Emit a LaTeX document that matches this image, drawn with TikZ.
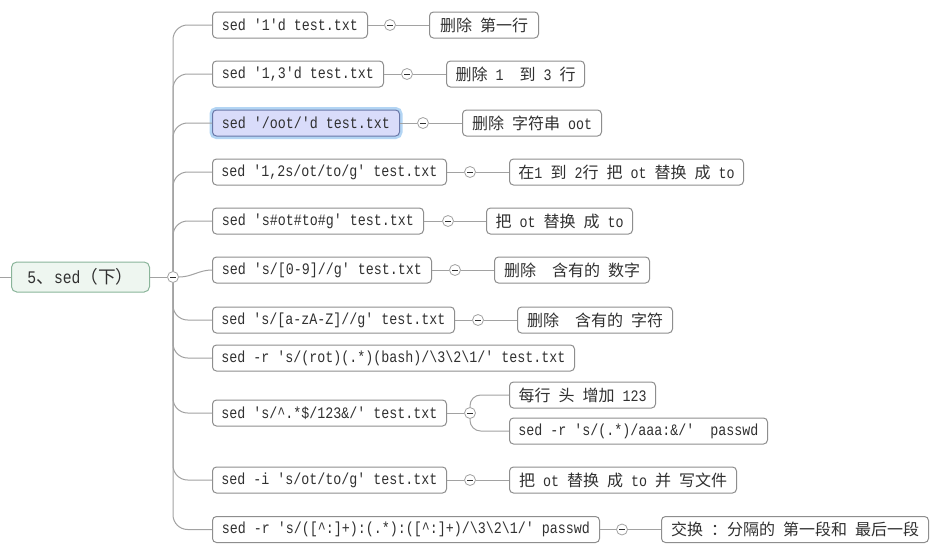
\documentclass[tikz,border=0pt]{standalone}
\usepackage{fontspec}
\setmonofont{Liberation Mono}[FakeStretch=0.8333]
\newfontfamily\cjk{Noto Sans CJK SC}
\definecolor{boxgray}{HTML}{8E8E8E}
\definecolor{linegray}{HTML}{A2A2A2}
\definecolor{txt}{HTML}{303030}
\definecolor{hlfill}{HTML}{D9DCFA}
\definecolor{hldraw}{HTML}{6A78A8}
\definecolor{hlglow}{HTML}{B3D5F4}
\definecolor{rootfill}{HTML}{EEF6F0}
\definecolor{rootdraw}{HTML}{8AB59A}
\tikzset{
  box/.style={draw=boxgray, fill=white, rounded corners=3pt, minimum height=19.5pt,
    inner xsep=0pt, inner ysep=0pt, anchor=west, line width=0.75pt, text=txt,
    font=\ttfamily\fontsize{12}{14}\selectfont},
  hlbox/.style={box, draw=hldraw, fill=hlfill, preaction={draw=hlglow, line width=4.5pt}},
  rootbox/.style={box, draw=rootdraw, fill=rootfill, rounded corners=4pt, minimum height=22.5pt,
    font=\ttfamily\fontsize{13.25}{15}\selectfont},
  toggle/.style={circle, draw=linegray, fill=white, minimum size=8.25pt, inner sep=0pt, line width=0.6pt,
    path picture={\draw[line width=0.6pt, txt] ([xshift=-2pt]path picture bounding box.center) -- ([xshift=2pt]path picture bounding box.center);}},
  conn/.style={draw=linegray, line width=0.75pt},
  trunk/.style={conn, rounded corners=11pt},
  fork/.style={conn, rounded corners=8pt}
}
\begin{document}
\begin{tikzpicture}[x=0.75pt, y=-0.75pt]
\fill[white] (0,0) rectangle (950,554);
\useasboundingbox (0,0) rectangle (950,554);

% root
\coordinate (start) at (0,277);
\node[rootbox, minimum width=103.5pt] (root) at (11,277) {5{\cjk 、}sed{\cjk （下）}};
\node[toggle] (rt) at (173,277) {};

% children
\node[box, minimum width=116.25pt] (c1) at (212,25) {sed '1'd test.txt};
\node[box, minimum width=128.25pt] (c2) at (212,74) {sed '1,3'd test.txt};
\node[hlbox, minimum width=140.25pt] (c3) at (212,123) {sed '/oot/'d test.txt};
\node[box, minimum width=175.5pt] (c4) at (212,172) {sed '1,2s/ot/to/g' test.txt};
\node[box, minimum width=158.25pt] (c5) at (212,221) {sed 's\#ot\#to\#g' test.txt};
\node[box, minimum width=164.25pt] (c6) at (212,270) {sed 's/[0-9]//g' test.txt};
\node[box, minimum width=181.5pt] (c7) at (212,320) {sed 's/[a-zA-Z]//g' test.txt};
\node[box, minimum width=271.5pt] (c8) at (212,358) {sed -r 's/(rot)(.*)(bash)/\textbackslash 3\textbackslash 2\textbackslash 1/' test.txt};
\node[box, minimum width=175.5pt] (c9) at (212,413) {sed 's/\textasciicircum.*\$/123\&/' test.txt};
\node[box, minimum width=175.5pt] (c10) at (212,480) {sed -i 's/ot/to/g' test.txt};
\node[box, minimum width=290.25pt] (c11) at (212,529.5) {sed -r 's/([\textasciicircum:]+):(.*):([\textasciicircum:]+)/\textbackslash 3\textbackslash 2\textbackslash 1/' passwd};

% toggles
\node[toggle] (t1) at (390,25) {};
\node[toggle] (t2) at (407,74) {};
\node[toggle] (t3) at (423,123) {};
\node[toggle] (t4) at (470,172) {};
\node[toggle] (t5) at (448,221) {};
\node[toggle] (t6) at (455,270) {};
\node[toggle] (t7) at (478,320) {};
\node[toggle] (t9) at (470,413) {};
\node[toggle] (t10) at (470,480) {};
\node[toggle] (t11) at (622,529.5) {};

% grandchildren
\node[box, minimum width=81.75pt] (g1) at (429,25) {{\cjk 删除} {\cjk 第一行}};
\node[box, minimum width=103.5pt] (g2) at (446,74) {{\cjk 删除} 1\ \ {\cjk 到} 3 {\cjk 行}};
\node[box, minimum width=104.25pt] (g3) at (462,123) {{\cjk 删除} {\cjk 字符串} oot};
\node[box, minimum width=175.5pt] (g4) at (509,172) {{\cjk 在}1 {\cjk 到} 2{\cjk 行} {\cjk 把} ot {\cjk 替换} {\cjk 成} to};
\node[box, minimum width=109.5pt] (g5) at (486,221) {{\cjk 把} ot {\cjk 替换} {\cjk 成} to};
\node[box, minimum width=116.25pt] (g6) at (494,270) {{\cjk 删除}\ \ {\cjk 含有的} {\cjk 数字}};
\node[box, minimum width=116.25pt] (g7) at (517,320) {{\cjk 删除}\ \ {\cjk 含有的} {\cjk 字符}};
\node[box, minimum width=109.5pt] (g9a) at (509,395) {{\cjk 每行} {\cjk 头} {\cjk 增加} 123};
\node[box, minimum width=193.5pt] (g9b) at (509,431) {sed -r 's/(.*)/aaa:\&/'\ \ passwd};
\node[box, minimum width=170.25pt] (g10) at (509,480) {{\cjk 把} ot {\cjk 替换} {\cjk 成} to {\cjk 并} {\cjk 写文件}};
\node[box, minimum width=200.25pt] (g11) at (661,529.5) {{\cjk 交换} {\cjk ：分隔的} {\cjk 第一段和} {\cjk 最后一段}};

% connectors
\draw[conn] (start) -- (root.west);
\draw[conn] (root.east) -- (rt.west);
\foreach \c in {c1,c2,c3,c4,c5} \draw[trunk] (rt.north) |- (\c.west);
\draw[conn] (rt.east) to[out=0, in=180] (c6.west);
\foreach \c in {c7,c8,c9,c10,c11} \draw[trunk] (rt.south) |- (\c.west);
\foreach \i in {1,2,3,4,5,6,7,9,10,11} \draw[conn] (c\i.east) -- (t\i.west);
\foreach \i in {1,2,3,4,5,6,7,10,11} \draw[conn] (t\i.east) -- (g\i.west);
\draw[fork] (t9.north) |- (g9a.west);
\draw[fork] (t9.south) |- (g9b.west);
\end{tikzpicture}
\end{document}
